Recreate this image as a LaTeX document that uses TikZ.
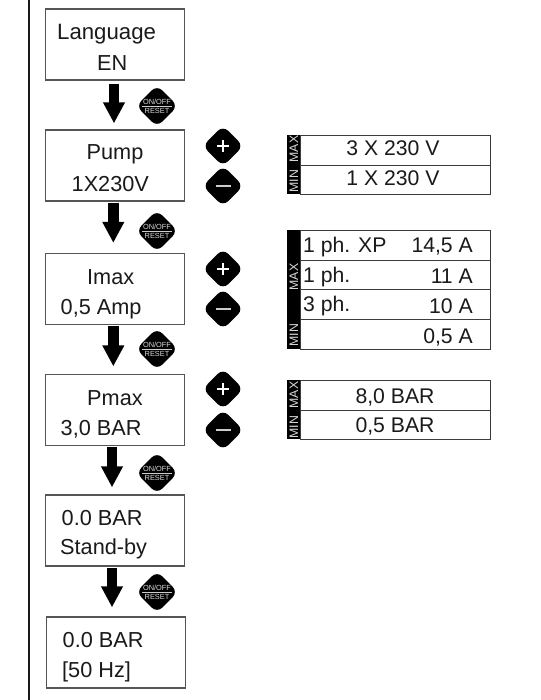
\documentclass[tikz,border=0pt]{standalone}
\usepackage{fontspec}
\setmainfont{Liberation Sans}
\usetikzlibrary{arrows.meta,shapes.geometric}
\definecolor{ink}{HTML}{1A1A1A}
\definecolor{edge}{HTML}{555555}
\tikzset{
  x=1pt,y=-1pt,
  screen/.style={draw=edge,line width=1.2pt,fill=white,minimum width=139.5pt,minimum height=71pt,inner sep=0pt},
  txt/.style={font=\fontsize{21.2}{21}\selectfont,text=ink,inner sep=0pt},
  ltxt/.style={txt,anchor=base west,font=\fontsize{21.7}{21}\selectfont},
  ctxt/.style={txt,anchor=base},
  rtxt/.style={txt,anchor=base east},
  ttxt/.style={txt,anchor=base west},
  btn/.style={shape=diamond,fill=black,rounded corners=7.5pt,minimum width=42pt,minimum height=42pt,inner sep=0pt},
  pmbtn/.style={btn,minimum width=41pt,minimum height=41pt},
  flow/.style={line width=10.5pt,-{Triangle[width=20.5pt,length=21pt]},black},
  row/.style={draw=edge!70!black,line width=1.2pt,minimum height=#1,inner sep=0pt,minimum width=190pt,anchor=north west},
  strip/.style={fill=black,inner sep=0pt,minimum width=13pt,anchor=north west},
  side/.style={rotate=90,text=white!85!black,font=\fontsize{12.3}{13}\selectfont,inner sep=0pt}
}
\newcommand{\onoff}[2]{%
  \node[btn] (#1) at #2 {};
  \node[text=white!85!black,inner sep=0pt,font=\fontsize{7.4}{8}\selectfont,anchor=base] at ([yshift=1.4pt]#1.center) {ON/OFF};
  \node[text=white!85!black,inner sep=0pt,font=\fontsize{7.4}{8}\selectfont,anchor=base] at ([yshift=-7.5pt]#1.center) {RESET};
  \draw[white!80!black,line width=0.7pt] ([xshift=-15pt]#1.center) -- ([xshift=15pt]#1.center);
}
\newcommand{\plusminus}[3]{%
  \node[pmbtn] (#1p) at (223,#2) {};
  \draw[white,line width=2.2pt] ([xshift=-6pt]#1p.center) -- ([xshift=6pt]#1p.center);
  \draw[white,line width=2.2pt] ([yshift=-6pt]#1p.center) -- ([yshift=6pt]#1p.center);
  \node[pmbtn] (#1m) at (223,#3) {};
  \draw[white!80!black,line width=2.4pt] ([xshift=-7.5pt]#1m.center) -- ([xshift=7.5pt]#1m.center);
}
\begin{document}
\begin{tikzpicture}
\useasboundingbox (0,0) rectangle (540,700);
\fill[white] (0,0) rectangle (540,700);
\coordinate (railtop) at (29,0);
\coordinate (railbot) at (29,700);
\draw[ink,line width=1.2pt] (railtop) -- (railbot);

% screens
\node[screen] (lang) at (115,44.5) {};
\node[screen] (pump) at (115,165.5) {};
\node[screen] (imax) at (115,289) {};
\node[screen] (pmax) at (115,410) {};
\node[screen] (stby) at (115,530.5) {};
\node[screen] (run)  at (116,652.5) {};

\node[ltxt,font=\fontsize{22.2}{21}\selectfont] at (57,40) {Language};
\node[ltxt] at (97,71) {EN};
\node[ltxt] at (86.5,160) {Pump};
\node[ltxt] at (71.5,191.5) {1X230V};
\node[ltxt] at (87,284) {Imax};
\node[ltxt] at (60.5,314) {0,5 Amp};
\node[ltxt] at (87,405) {Pmax};
\node[ltxt] at (60.5,435) {3,0 BAR};
\node[ltxt] at (61.5,525) {0.0 BAR};
\node[ltxt] at (60,554) {Stand-by};
\node[ltxt] at (62.5,647) {0.0 BAR};
\node[ltxt] at (62,677) {[50 Hz]};

% arrows
\draw[flow,shorten <=3pt,shorten >=6pt] ([xshift=-1pt]lang.south) -- ([xshift=-1pt]pump.north);
\draw[flow,shorten <=1pt,shorten >=10pt] ([xshift=-1.7pt]pump.south) -- ([xshift=-1.7pt]imax.north);
\draw[flow,shorten <=1pt,shorten >=7.5pt] ([xshift=-1.7pt]imax.south) -- ([xshift=-1.7pt]pmax.north);
\draw[flow,shorten <=1pt,shorten >=7pt] ([xshift=-3pt]pmax.south) -- ([xshift=-3pt]stby.north);
\draw[flow,shorten <=1pt,shorten >=9pt] ([xshift=-3pt]stby.south) -- ([xshift=-4pt]run.north);

% buttons
\onoff{b1}{(157,106)}
\onoff{b2}{(157,231)}
\onoff{b3}{(157,349)}
\onoff{b4}{(157,473)}
\onoff{b5}{(157,592)}
\plusminus{a}{146}{186}
\plusminus{c}{269}{309}
\plusminus{d}{389}{430}

% table 1
\node[row=30pt] (t1a) at (300,135) {};
\node[row=29pt] (t1b) at (300,165) {};
\node[strip,minimum height=59pt] (t1s) at (287,135) {};
\node[side] at (294,149) {MAX};
\node[side] at (294,181) {MIN};
\node[ctxt] at (393,156) {3 X 230 V};
\node[ctxt] at (393,186) {1 X 230 V};

% table 2
\node[row=30pt] (t2a) at (300,230) {};
\node[row=29pt] (t2b) at (300,260) {};
\node[row=30pt] (t2c) at (300,289) {};
\node[row=30pt] (t2d) at (300,319) {};
\node[strip,minimum height=119pt] (t2s) at (287,230) {};
\node[side] at (294,277) {MAX};
\node[side] at (294,335) {MIN};
\node[ttxt] at (303,252) {1 ph. XP};
\node[rtxt] at (473,253) {14,5 A};
\node[ttxt] at (303,282) {1 ph.};
\node[rtxt] at (473,283) {11 A};
\node[ttxt] at (303,311) {3 ph.};
\node[rtxt] at (473,313) {10 A};
\node[rtxt] at (473,343) {0,5 A};

% table 3
\node[row=30pt] (t3a) at (300,380) {};
\node[row=29pt] (t3b) at (300,410) {};
\node[strip,minimum height=59pt] (t3s) at (287,380) {};
\node[side] at (294,395) {MAX};
\node[side] at (294,427) {MIN};
\node[ctxt] at (395,403) {8,0 BAR};
\node[ctxt] at (395,432) {0,5 BAR};
\end{tikzpicture}
\end{document}
